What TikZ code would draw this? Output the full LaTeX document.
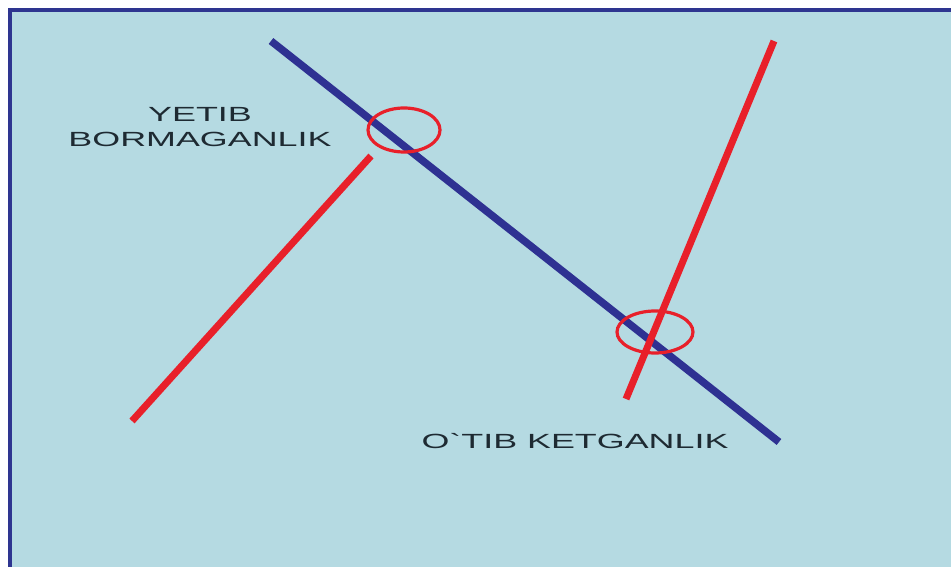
\documentclass[tikz,border=0pt]{standalone}
\usepackage{fontspec}
\usepackage{graphicx}
\newfontfamily\lbfont{Liberation Sans}
\definecolor{bgblue}{HTML}{B5DAE2}
\definecolor{framecol}{HTML}{2E3590}
\definecolor{lineblue}{HTML}{2E3192}
\definecolor{linered}{HTML}{E8202A}
\definecolor{txt}{HTML}{1E2A32}
\newcommand{\stretchtxt}[1]{\scalebox{1.75}[1]{#1}}
\tikzset{
  bluebar/.style={draw=lineblue, line width=7.5pt},
  redbar/.style={draw=linered, line width=7pt},
  ring/.style={draw=linered, line width=3.2pt},
  lbl/.style={text=txt, font=\lbfont\fontsize{20.5}{25}\selectfont, align=center, inner sep=0pt}
}
\begin{document}
\begin{tikzpicture}[x=1pt,y=-1pt]
\useasboundingbox (0,0) rectangle (951,567);
\fill[white] (0,0) rectangle (951,567);
\begin{scope}
\clip (0,0) rectangle (951,567);
\draw[fill=bgblue, draw=framecol, line width=4pt] (10,10) rectangle (965,580);
\end{scope}
% end points
\coordinate (b1) at (271,41);
\coordinate (b2) at (779,442);
\coordinate (r1a) at (132,421);
\coordinate (r1b) at (371,156);
\coordinate (r2a) at (626,399);
\coordinate (r2b) at (774,41);
% lines
\draw[bluebar] (b1) -- (b2);
\draw[redbar] (r1a) -- (r1b);
\draw[redbar] (r2a) -- (r2b);
% rings
\draw[ring] (404,130) ellipse [x radius=36, y radius=22];
\draw[ring] (655,332) ellipse [x radius=38, y radius=21];
% labels
\node[lbl] (l1) at (200,127) {\stretchtxt{YETIB}\\\stretchtxt{BORMAGANLIK}};
\node[lbl] (l2) at (575,441) {\stretchtxt{O`TIB KETGANLIK}};
\end{tikzpicture}
\end{document}
